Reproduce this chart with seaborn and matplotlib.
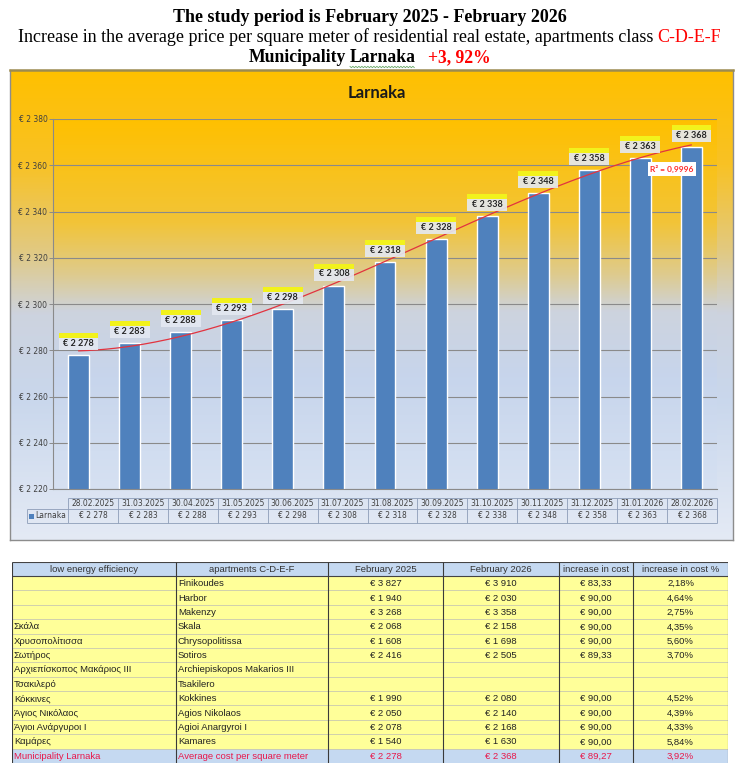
import numpy as np
import matplotlib
matplotlib.use("Agg")
import matplotlib.pyplot as plt
import seaborn as sns
from matplotlib import font_manager
from matplotlib.colors import LinearSegmentedColormap
from matplotlib.patches import Rectangle
from matplotlib.lines import Line2D

# chart data
dates = ["28.02.2025", "31.03.2025", "30.04.2025", "31.05.2025", "30.06.2025",
         "31.07.2025", "31.08.2025", "30.09.2025", "31.10.2025", "30.11.2025",
         "31.12.2025", "31.01.2026", "28.02.2026"]
prices = [2278, 2283, 2288, 2293, 2298, 2308, 2318, 2328, 2338, 2348, 2358, 2363, 2368]
y_ticks = [2220, 2240, 2260, 2280, 2300, 2320, 2340, 2360, 2380]
series_name = "Larnaka"
r2_text = "R² = 0,9996"

# table data
col_headers = ["low energy efficiency", "apartments C-D-E-F", "February 2025",
               "February 2026", "increase in cost", "increase in cost %"]
areas_gr = ["", "", "", "Σκάλα", "Χρυσοπολίτισσα", "Σωτήρος", "Αρχιεπίσκοπος Μακάριος III",
            "Τσακιλερό", "Κόκκινες", "Άγιος Νικόλαος", "Άγιοι Ανάργυροι I", "Καμάρες",
            "Municipality Larnaka"]
areas_en = ["Finikoudes", "Harbor", "Makenzy", "Skala", "Chrysopolitissa", "Sotiros",
            "Archiepiskopos Makarios III", "Tsakilero", "Kokkines", "Agios Nikolaos",
            "Agioi Anargyroi I", "Kamares", "Average cost per square meter"]
feb_2025 = [3827, 1940, 3268, 2068, 1608, 2416, None, None, 1990, 2050, 2078, 1540, 2278]
feb_2026 = [3910, 2030, 3358, 2158, 1698, 2505, None, None, 2080, 2140, 2168, 1630, 2368]
cost_increase = [83.33, 90.00, 90.00, 90.00, 90.00, 89.33, None, None, 90.00, 90.00, 90.00, 90.00, 89.27]
pct_increase = [2.18, 4.64, 2.75, 4.35, 5.60, 3.70, None, None, 4.52, 4.39, 4.33, 5.84, 3.92]

W, H = 739, 773
BAR_BLUE = "#4F81BD"
RED = "#FF0000"
TABLE_RED = "#E8174A"


def eur(v):
    return "" if v is None else "€ " + f"{v:,}".replace(",", " ")


def eur2(v):
    return "" if v is None else "€ " + f"{v:.2f}".replace(".", ",")


def pct(v):
    return "" if v is None else f"{v:.2f}%".replace(".", ",")


def box(x0, y0, x1, y1):
    # pixel box (top-left origin) -> figure rect
    return [x0 / W, 1 - y1 / H, (x1 - x0) / W, (y1 - y0) / H]


sns.set_theme(style="white")
plt.rcParams["font.family"] = ["DejaVu Sans"]
names = {f.name for f in font_manager.fontManager.ttflist}
narrow = "Liberation Sans Narrow" if "Liberation Sans Narrow" in names else "Liberation Sans"

fig = plt.figure(figsize=(W / 100, H / 100), dpi=100)
fig.patch.set_facecolor("white")
renderer = fig.canvas.get_renderer()


def heading(y, pieces, size, bold):
    texts, widths = [], []
    for s, color, gap in pieces:
        t = fig.text(0, 1 - y / H, s, fontsize=size, color=color, family="Liberation Serif",
                     weight="bold" if bold else "normal", va="center", ha="left")
        texts.append(t)
        widths.append(t.get_window_extent(renderer).width)
    total = sum(widths) + sum(p[2] for p in pieces)
    x = (W - total) / 2
    spans = []
    for t, w, p in zip(texts, widths, pieces):
        t.set_x(x / W)
        spans.append((x, x + w))
        x += w + p[2]
    return spans


heading(17, [("The study period is February 2025 - February 2026", "black", 0)], 13, True)
heading(37, [("Increase in the average price per square meter of residential real estate, "
              "apartments class", "black", 4), ("C-D-E-F", RED, 0)], 13, False)
spans = heading(58, [("Municipality", "black", 4), ("Larnaka", "black", 12),
                     ("+3, 92%", RED, 0)], 12.7, True)
# spell-check squiggle under "Larnaka"
sx = np.arange(spans[1][0], spans[1][1], 1.5)
sy = 67 + np.where(np.arange(len(sx)) % 2 == 0, -0.7, 0.7)
fig.add_artist(Line2D(sx / W, 1 - sy / H, color="#6aa86a", lw=0.6))

# ---- chart area background
grad = np.linspace(0, 1, 256).reshape(-1, 1)
outer_cmap = LinearSegmentedColormap.from_list(
    "outer", [(0, "#FFC000"), (0.2, "#F8C225"), (0.38, "#E2C97F"), (0.52, "#CDD3DF"),
              (0.7, "#C9D7EC"), (1, "#E4EAF5")])
plot_cmap = LinearSegmentedColormap.from_list(
    "plot", [(0, "#FFC000"), (0.28, "#F2C438"), (0.42, "#DECB8E"), (0.52, "#CDD3DE"),
             (0.7, "#C7D5EC"), (1, "#D6E1F2")])

bg = fig.add_axes(box(10, 70, 733, 540))
bg.imshow(grad, cmap=outer_cmap, aspect="auto", extent=(0, 1, 0, 1), origin="upper")
bg.set_xticks([])
bg.set_yticks([])
for s in bg.spines.values():
    s.set_color("#8c8c8c")
    s.set_linewidth(1)
bg.spines["top"].set_color("#9C8B50")
bg.spines["top"].set_linewidth(1.8)

fig.text(377 / W, 1 - 93 / H, series_name, fontsize=12, weight="bold", family="Lato",
         ha="center", va="center", color="#1a1a1a")

# ---- bar plot
ax = fig.add_axes(box(53, 119, 717, 489))
ax.patch.set_visible(False)
sns.barplot(x=dates, y=prices, color=BAR_BLUE, saturation=1, width=0.41, ax=ax, zorder=2)
ax.imshow(grad, cmap=plot_cmap, aspect="auto", extent=(-0.5, 12.5, 2220, 2380),
          origin="upper", zorder=0)
ax.set_xlim(-0.5, 12.5)
ax.set_ylim(y_ticks[0], y_ticks[-1])
ax.set_yticks(y_ticks)
ax.set_yticklabels([eur(v) for v in y_ticks], fontsize=5.5, color="#404040")
ax.set_xticks(range(len(dates)))
ax.set_xticklabels([])
ax.tick_params(axis="y", left=True, length=3, width=0.7, color="#8a8a8a", pad=1)
ax.tick_params(axis="x", bottom=False)
ax.set_xlabel("")
ax.set_ylabel("")
ax.grid(axis="y", color="#8a8a8a", lw=0.8)
ax.set_axisbelow(True)
for s in ["top", "right"]:
    ax.spines[s].set_visible(False)
for s in ["left", "bottom"]:
    ax.spines[s].set_color("#8a8a8a")
    ax.spines[s].set_linewidth(0.8)

# trendline (polynomial, order 3)
idx = np.arange(len(prices))
coef = np.polyfit(idx, prices, 3)
xs = np.linspace(0, len(prices) - 1, 200)
ax.plot(xs, np.polyval(coef, xs), color="#E2333F", lw=0.9, zorder=3)

# data labels
ppu = ax.get_position().height * H / (y_ticks[-1] - y_ticks[0])
for i, v in enumerate(prices):
    ax.add_patch(Rectangle((i - 0.39, v + 5 / ppu), 0.78, 12 / ppu, fc="#E4E9F2", ec="none",
                           alpha=0.9, zorder=4, clip_on=False))
    ax.add_patch(Rectangle((i - 0.39, v + 17 / ppu), 0.78, 5 / ppu, fc="#F2F21C", ec="none",
                           zorder=4, clip_on=False))
    ax.text(i, v + 11.5 / ppu, eur(v), ha="center", va="center", fontsize=6.5, family="Lato",
            weight="bold", color="#262626", zorder=5, clip_on=False)

ax.text(11.62, 2358.4, r2_text, ha="center", va="center", fontsize=6, family="Lato",
        weight="bold", color="#FF2A2A", zorder=6,
        bbox=dict(fc="white", ec="none", pad=1.8))

# ---- data table under the chart
tab = fig.add_axes(box(68, 498, 717, 523))
tab.set_xlim(0, len(dates))
tab.set_ylim(0, 25)
tab.axis("off")
cw = 649 / len(dates)
leg_x = (27 - 68) / cw
line_c = "#8D9DB8"
tab.hlines([0, 14, 25], 0, len(dates), color=line_c, lw=0.6, clip_on=False)
tab.vlines(range(len(dates) + 1), 0, 25, color=line_c, lw=0.6, clip_on=False)
tab.hlines([0, 14], leg_x, 0, color=line_c, lw=0.6, clip_on=False)
tab.vlines([leg_x], 0, 14, color=line_c, lw=0.6, clip_on=False)
for i, (d, v) in enumerate(zip(dates, prices)):
    tab.text(i + 0.5, 19.5, d, ha="center", va="center", fontsize=5.5, color="#404040")
    tab.text(i + 0.5, 7, eur(v), ha="center", va="center", fontsize=5.5, color="#404040")
tab.add_patch(Rectangle(((29 - 68) / cw, 4.5), 5 / cw, 5, fc=BAR_BLUE, ec="none", clip_on=False))
tab.text((35 - 68) / cw, 7, series_name, ha="left", va="center", fontsize=5.5,
         color="#404040", clip_on=False)

# ---- bottom table
cols = [12, 176, 328, 443, 559, 633, 728]
top, head_h, bottom = 562, 14, 763
row_h = (bottom - top - head_h) / len(areas_en)
tb = fig.add_axes(box(cols[0], top, cols[-1], bottom))
tb.set_xlim(cols[0], cols[-1])
tb.set_ylim(bottom, top)
tb.axis("off")

tb.add_patch(Rectangle((cols[0], top), cols[-1] - cols[0], head_h, fc="#C5D9F1", ec="none"))
for c, h in enumerate(col_headers):
    tb.text((cols[c] + cols[c + 1]) / 2, top + head_h / 2 + 0.5, h, ha="center", va="center",
            fontsize=6.8, family=narrow, color="#333333")

rows = list(zip(areas_gr, areas_en, [eur(v) for v in feb_2025], [eur(v) for v in feb_2026],
                [eur2(v) for v in cost_increase], [pct(v) for v in pct_increase]))
for r, cells in enumerate(rows):
    y0 = top + head_h + r * row_h
    last = r == len(rows) - 1
    tb.add_patch(Rectangle((cols[0], y0), cols[-1] - cols[0], row_h,
                           fc="#C5D9F1" if last else "#FFFF99", ec="none"))
    color = TABLE_RED if last else "#222222"
    for c, s in enumerate(cells):
        if c < 2:
            tx, ha = cols[c] + 2, "left"
        else:
            tx, ha = (cols[c] + cols[c + 1]) / 2, "center"
        tb.text(tx, y0 + row_h / 2 + 0.5, s, ha=ha, va="center", fontsize=6.8,
                family=narrow, color=color)

row_lines = [top + head_h + r * row_h for r in range(1, len(rows))] + [bottom]
tb.hlines(row_lines, cols[0], cols[-1], color="#C9C9B0", lw=0.6)
tb.hlines([top, top + head_h], cols[0], cols[-1], color="#444444", lw=0.8)
tb.vlines(cols, top, bottom, color="#3a3a3a", lw=0.8)

fig.savefig("out.png", dpi=100)
